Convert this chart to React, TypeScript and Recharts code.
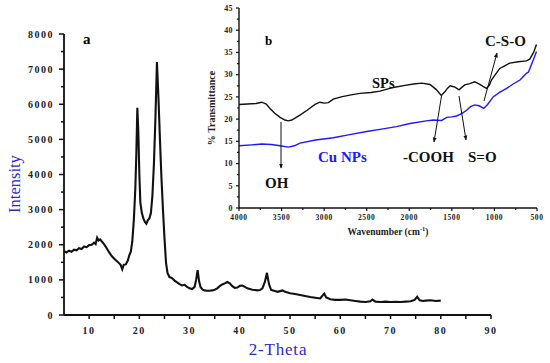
import React from 'react';
import { LineChart, Line, XAxis, YAxis } from 'recharts';

const SERIF = "'Liberation Serif', 'Times New Roman', serif";
const INK = '#111111';
const BLUE = '#1a1aff';
const LABEL_BLUE = '#2a2ad0';

// XRD pattern (panel a)
const xrdTheta = [
  5.0, 5.5, 6.0, 6.5, 7.0, 7.5, 8.0, 8.5, 9.0, 9.5, 10.0, 10.5, 11.0, 11.3, 11.6, 11.9, 12.2, 12.6, 13.0, 13.5,
  14.0, 14.5, 15.0, 15.5, 16.0, 16.3, 16.6, 16.9, 17.3, 17.7, 18.0, 18.3, 18.6, 18.9, 19.2, 19.4, 19.6, 19.8, 20.0, 20.2,
  20.5, 20.8, 21.1, 21.4, 21.7, 22.0, 22.3, 22.6, 22.9, 23.2, 23.5, 23.8, 24.1, 24.4, 24.7, 25.0, 25.3, 25.6, 26.0, 26.5,
  27.0, 27.5, 28.0, 28.5, 29.0, 29.5, 30.0, 30.5, 31.0, 31.3, 31.6, 31.9, 32.2, 32.6, 33.0, 33.5, 34.0, 34.5, 35.0, 35.5,
  36.0, 36.5, 37.0, 37.5, 38.0, 38.5, 39.0, 39.5, 40.0, 40.5, 41.0, 41.5, 42.0, 42.5, 43.0, 43.5, 44.0, 44.5, 45.0, 45.4,
  45.8, 46.2, 46.6, 47.0, 47.5, 48.0, 48.5, 49.0, 49.5, 50.0, 51.0, 52.0, 53.0, 54.0, 55.0, 56.0, 56.5, 56.8, 57.2, 58.0,
  59.0, 60.0, 61.0, 62.0, 63.0, 64.0, 65.0, 66.0, 66.4, 67.0, 68.0, 69.0, 70.0, 71.0, 72.0, 73.0, 74.0, 74.8, 75.3, 75.8,
  76.5, 77.0, 78.0, 79.0, 80.0,
];
const xrdIntensity = [
  1820, 1780, 1830, 1800, 1860, 1840, 1900, 1880, 1950, 1930, 1990, 2000, 2060, 2020, 2200, 2120, 2150, 2080, 2010, 1900,
  1780, 1680, 1600, 1540, 1470, 1420, 1300, 1430, 1440, 1550, 1700, 1800, 2100, 2700, 3600, 4600, 5900, 5200, 4000, 3200,
  2900, 2750, 2650, 2600, 2700, 2750, 2900, 3400, 4300, 5600, 7200, 6200, 5000, 3900, 3000, 2200, 1500, 1200, 1080, 1050,
  980, 930, 880, 840, 860, 800, 760, 740, 800, 1000, 1280, 950, 790, 720, 700, 690, 690, 700, 720, 760,
  820, 870, 900, 940, 900, 820, 770, 780, 830, 840, 800, 760, 740, 720, 710, 700, 710, 760, 950, 1200,
  880, 720, 700, 680, 660, 680, 700, 660, 640, 620, 600, 570, 540, 510, 490, 470, 560, 610, 500, 450,
  430, 430, 440, 420, 400, 380, 370, 390, 440, 380, 370, 380, 370, 375, 370, 380, 390, 430, 520, 420,
  400, 410, 420, 400, 410,
];

// FTIR spectra (panel b)
const spWave = [
  4000, 3900, 3800, 3734, 3680, 3636, 3580, 3518, 3460, 3421, 3380, 3284, 3200, 3107, 3050, 3000, 2950, 2892, 2800, 2700,
  2579, 2450, 2344, 2250, 2188, 2050, 1950, 1854, 1757, 1686, 1624, 1580, 1553, 1520, 1502, 1463, 1415, 1380, 1348, 1290,
  1231, 1200, 1172, 1130, 1093, 1060, 1035, 990, 937, 880, 820, 720, 624, 585, 540, 506,
];
const spTrans = [
  23.3, 23.4, 23.5, 23.8, 23.4, 22.4, 21.3, 20.4, 19.8, 19.6, 19.8, 20.9, 22.0, 23.3, 23.8, 23.6, 23.7, 24.5, 25.0, 25.4,
  25.8, 26.0, 26.3, 26.8, 27.1, 27.6, 27.9, 28.1, 27.8, 26.7, 25.3, 26.2, 26.9, 27.5, 27.4, 27.2, 26.6, 27.2, 27.7, 28.0,
  28.4, 28.1, 27.8, 27.3, 26.9, 27.6, 28.8, 30.0, 31.4, 32.0, 32.6, 32.9, 33.1, 33.5, 35.0, 36.8,
];
const cuWave = [
  4000, 3850, 3734, 3620, 3518, 3421, 3350, 3284, 3100, 2892, 2700, 2500, 2344, 2150, 1992, 1800, 1718, 1620, 1561, 1500,
  1444, 1380, 1327, 1280, 1231, 1180, 1125, 1080, 1015, 940, 857, 780, 700, 660, 624, 600, 560, 506,
];
const cuTrans = [
  14.0, 14.2, 14.4, 14.3, 14.0, 13.7, 14.0, 14.6, 15.3, 15.8, 16.5, 17.2, 17.7, 18.3, 19.0, 19.6, 19.8, 19.7, 20.4, 20.5,
  20.7, 21.3, 22.0, 22.8, 23.2, 23.0, 22.4, 23.3, 25.0, 26.0, 26.9, 27.9, 28.8, 29.6, 30.3, 30.6, 32.5, 35.2,
];

const xrdXTicks = [5, 10, 15, 20, 25, 30, 35, 40, 45, 50, 55, 60, 65, 70, 75, 80, 85, 90];
const xrdYTicks = [0, 500, 1000, 1500, 2000, 2500, 3000, 3500, 4000, 4500, 5000, 5500, 6000, 6500, 7000, 7500, 8000];
const ftirXTicks = [500, 750, 1000, 1250, 1500, 1750, 2000, 2250, 2500, 2750, 3000, 3250, 3500, 3750, 4000];
const ftirYTicks = [0, 2.5, 5, 7.5, 10, 12.5, 15, 17.5, 20, 22.5, 25, 27.5, 30, 32.5, 35, 37.5, 40, 42.5, 45];

const xrdData = xrdTheta.map((t, i) => ({ t, i: xrdIntensity[i] }));
const spData = spWave.map((w, i) => ({ w, v: spTrans[i] }));
const cuData = cuWave.map((w, i) => ({ w, v: cuTrans[i] }));

const XrdXTick = (p: any) => {
  const { x, y, payload } = p;
  const v = payload.value;
  const major = v % 10 === 0;
  if (v === 5) return <g />;
  return (
    <g>
      <line x1={x} x2={x} y1={y} y2={y + 4} stroke={INK} strokeWidth={1.5} />
      {major && (
        <text x={x} y={y + 19} textAnchor="middle" fontFamily={SERIF} fontWeight="bold" fontSize={10} letterSpacing={1.5} fill="#222">
          {v}
        </text>
      )}
    </g>
  );
};

const XrdYTick = (p: any) => {
  const { x, y, payload } = p;
  const v = payload.value;
  const major = v % 1000 === 0;
  return (
    <g>
      <line x1={x - (major ? 5 : 3)} x2={x} y1={y} y2={y} stroke={INK} strokeWidth={1.5} />
      {major && (
        <text x={x - 10} y={y} dy="0.35em" textAnchor="end" fontFamily={SERIF} fontWeight="bold" fontSize={10} letterSpacing={1.5} fill="#222">
          {v}
        </text>
      )}
    </g>
  );
};

const FtirXTick = (p: any) => {
  const { x, y, payload } = p;
  const v = payload.value;
  const major = v % 500 === 0;
  return (
    <g>
      <line x1={x} x2={x} y1={y} y2={y + (major ? 3 : 2)} stroke={INK} strokeWidth={1.2} />
      {major && (
        <text x={x} y={y + 12} textAnchor="middle" fontFamily={SERIF} fontWeight="bold" fontSize={7.5} letterSpacing={0.6} fill="#222">
          {v}
        </text>
      )}
    </g>
  );
};

const FtirYTick = (p: any) => {
  const { x, y, payload } = p;
  const v = payload.value;
  const major = v % 5 === 0;
  return (
    <g>
      <line x1={x - (major ? 3 : 2)} x2={x} y1={y} y2={y} stroke={INK} strokeWidth={1.2} />
      {major && (
        <text x={x - 6} y={y} dy="0.35em" textAnchor="end" fontFamily={SERIF} fontWeight="bold" fontSize={8} letterSpacing={0.4} fill="#222">
          {v}
        </text>
      )}
    </g>
  );
};

const labelStyle = { fontFamily: SERIF, fontWeight: 'bold' as const, fontSize: 15 };

export default function App() {
  return (
    <div style={{ position: 'absolute', left: 0, top: 0, width: 550, height: 363, background: '#fff' }}>
      <div style={{ position: 'absolute', left: 0, top: 0 }}>
        <LineChart width={550} height={363} data={xrdData} margin={{ top: 34, right: 59, bottom: 18, left: 4 }}>
          <XAxis
            dataKey="t"
            type="number"
            domain={[5, 90]}
            ticks={xrdXTicks}
            interval={0}
            tick={(p: any) => <XrdXTick {...p} />}
            tickLine={false}
            tickSize={0}
            tickMargin={0}
            height={30}
            axisLine={{ stroke: INK, strokeWidth: 1.8 }}
          />
          <YAxis
            type="number"
            domain={[0, 8000]}
            ticks={xrdYTicks}
            interval={0}
            tick={(p: any) => <XrdYTick {...p} />}
            tickLine={false}
            tickSize={0}
            tickMargin={0}
            width={60}
            axisLine={{ stroke: INK, strokeWidth: 1.8 }}
          />
          <Line dataKey="i" type="linear" stroke={INK} strokeWidth={2.1} dot={false} activeDot={false} isAnimationActive={false} />
        </LineChart>
      </div>
      <div style={{ position: 'absolute', left: 0, top: 0 }}>
        <LineChart width={550} height={363} margin={{ top: 8, right: 13, bottom: 125, left: 199 }}>
          <XAxis
            dataKey="w"
            type="number"
            domain={[500, 4000]}
            reversed
            ticks={ftirXTicks}
            interval={0}
            tick={(p: any) => <FtirXTick {...p} />}
            tickLine={false}
            tickSize={0}
            tickMargin={0}
            height={30}
            allowDuplicatedCategory={false}
            axisLine={{ stroke: INK, strokeWidth: 1.4 }}
          />
          <YAxis
            type="number"
            domain={[0, 45]}
            ticks={ftirYTicks}
            interval={0}
            tick={(p: any) => <FtirYTick {...p} />}
            tickLine={false}
            tickSize={0}
            tickMargin={0}
            width={40}
            axisLine={{ stroke: INK, strokeWidth: 1.4 }}
          />
          <Line data={cuData} dataKey="v" type="linear" stroke={BLUE} strokeWidth={1.4} dot={false} activeDot={false} isAnimationActive={false} />
          <Line data={spData} dataKey="v" type="linear" stroke={INK} strokeWidth={1.4} dot={false} activeDot={false} isAnimationActive={false} />
        </LineChart>
      </div>
      <svg width={550} height={363} style={{ position: 'absolute', left: 0, top: 0, pointerEvents: 'none' }}>
        <defs>
          <marker id="ah" viewBox="0 0 10 10" refX="9" refY="5" markerWidth="5" markerHeight="5" orient="auto">
            <path d="M0,1 L10,5 L0,9 z" fill={INK} />
          </marker>
        </defs>
        {/* axis titles */}
        <text x={14} y={184} transform="rotate(-90 14 184)" textAnchor="middle" dominantBaseline="central" fontFamily={SERIF} fontSize={16.5} fill={LABEL_BLUE}>
          Intensity
        </text>
        <text x={278} y={355} textAnchor="middle" fontFamily={SERIF} fontSize={17} letterSpacing={0.8} fill={LABEL_BLUE}>
          2-Theta
        </text>
        <text x={211} y={108} transform="rotate(-90 211 108)" textAnchor="middle" dominantBaseline="central" fontFamily={SERIF} fontWeight="bold" fontSize={10} fill="#222">
          % Transmittance
        </text>
        <text x={388} y={235} textAnchor="middle" fontFamily={SERIF} fontWeight="bold" fontSize={9.5} fill="#222">
          Wavenumber (cm<tspan fontSize={6.5} dy={-4}>-1</tspan><tspan dy={4}>)</tspan>
        </text>
        {/* panel letters */}
        <text x={83} y={44} {...labelStyle}>a</text>
        <text x={265} y={45} fontFamily={SERIF} fontWeight="bold" fontSize={13}>b</text>
        {/* annotations */}
        <text x={372} y={88} {...labelStyle} fontSize={14.5} fill={INK}>SPs</text>
        <text x={318} y={161.5} {...labelStyle} fill={BLUE}>Cu NPs</text>
        <text x={403} y={161.5} {...labelStyle} fill={INK}>-COOH</text>
        <text x={468} y={161.5} {...labelStyle} fill={INK}>S=O</text>
        <text x={265} y={188} {...labelStyle} fill={INK}>OH</text>
        <text x={485} y={45.7} {...labelStyle} fill={INK}>C-S-O</text>
        <line x1={281} y1={122} x2={281} y2={168} stroke={INK} strokeWidth={1} markerEnd="url(#ah)" />
        <line x1={441.5} y1={96} x2={434} y2={142} stroke={INK} strokeWidth={1} markerEnd="url(#ah)" />
        <line x1={459} y1={96} x2={466} y2={140} stroke={INK} strokeWidth={1} markerEnd="url(#ah)" />
        <line x1={484} y1={101} x2={497} y2={53} stroke={INK} strokeWidth={1} markerEnd="url(#ah)" />
      </svg>
    </div>
  );
}
